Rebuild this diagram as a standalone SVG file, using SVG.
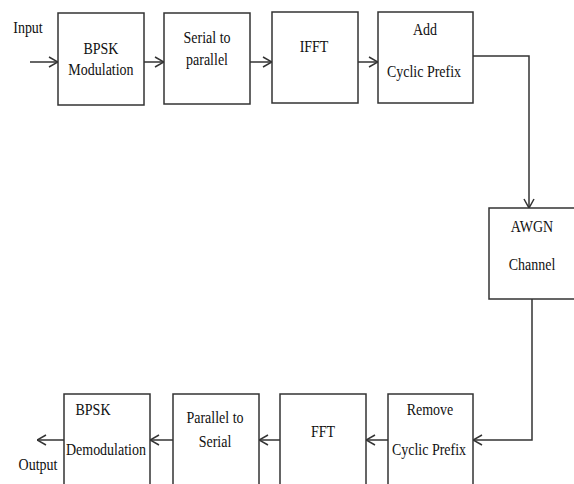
<svg xmlns="http://www.w3.org/2000/svg" width="574" height="484" viewBox="0 0 574 484">
<style>
.box{fill:#fff;stroke:#333;stroke-width:1.5}
.ln{fill:none;stroke:#333;stroke-width:1.5}
text{font-family:"Liberation Serif","Times New Roman",serif;font-size:16px;fill:#111;text-anchor:middle}
</style>
<defs>
<marker id="ah" viewBox="0 0 10 12" refX="10" refY="6" markerWidth="10" markerHeight="12" markerUnits="userSpaceOnUse" orient="auto">
<path d="M1,1 L10,6 L1,11" fill="none" stroke="#333" stroke-width="1.5"/>
</marker>
</defs>
<rect width="574" height="484" fill="#fff"/>
<g id="connectors">
<line class="ln" x1="30" y1="62" x2="58" y2="62" marker-end="url(#ah)"/>
<line class="ln" x1="144" y1="62" x2="164" y2="62" marker-end="url(#ah)"/>
<line class="ln" x1="250" y1="62" x2="272" y2="62" marker-end="url(#ah)"/>
<line class="ln" x1="358" y1="62" x2="378" y2="62" marker-end="url(#ah)"/>
<polyline class="ln" points="473,56 529,56 529,208" marker-end="url(#ah)"/>
<polyline class="ln" points="532,299 532,440 473,440" marker-end="url(#ah)"/>
<line class="ln" x1="388" y1="440" x2="366" y2="440" marker-end="url(#ah)"/>
<line class="ln" x1="280" y1="440" x2="259" y2="440" marker-end="url(#ah)"/>
<line class="ln" x1="173" y1="440" x2="150" y2="440" marker-end="url(#ah)"/>
<line class="ln" x1="64" y1="440" x2="37" y2="440" marker-end="url(#ah)"/>
</g>
<g id="input" transform="scale(0.875,1)"><text x="32" y="33">Input</text></g>
<g id="bpsk-mod"><rect class="box" x="58" y="13" width="86" height="92"/><g transform="scale(0.875,1)"><text x="115.4" y="54">BPSK</text><text x="115.4" y="75">Modulation</text></g></g>
<g id="s2p"><rect class="box" x="164" y="13" width="86" height="91"/><g transform="scale(0.875,1)"><text x="236.6" y="43">Serial to</text><text x="236.6" y="65">parallel</text></g></g>
<g id="ifft"><rect class="box" x="272" y="12" width="86" height="91"/><g transform="scale(0.875,1)"><text x="358.9" y="52">IFFT</text></g></g>
<g id="add-cp"><rect class="box" x="378" y="12" width="95" height="91"/><g transform="scale(0.875,1)"><text x="485.7" y="35">Add</text><text x="484.6" y="77">Cyclic Prefix</text></g></g>
<g id="awgn"><rect class="box" x="489" y="208" width="90" height="91"/><g transform="scale(0.875,1)"><text x="608" y="232">AWGN</text><text x="608" y="270">Channel</text></g></g>
<g id="rm-cp"><rect class="box" x="388" y="394" width="85" height="100"/><g transform="scale(0.875,1)"><text x="491.4" y="415">Remove</text><text x="490.3" y="455">Cyclic Prefix</text></g></g>
<g id="fft"><rect class="box" x="280" y="394" width="86" height="100"/><g transform="scale(0.875,1)"><text x="369.1" y="437">FFT</text></g></g>
<g id="p2s"><rect class="box" x="173" y="394" width="86" height="100"/><g transform="scale(0.875,1)"><text x="245.7" y="423">Parallel to</text><text x="245.7" y="447">Serial</text></g></g>
<g id="bpsk-demod"><rect class="box" x="64" y="394" width="86" height="100"/><g transform="scale(0.875,1)"><text x="106.3" y="415">BPSK</text><text x="121.1" y="455">Demodulation</text></g></g>
<g id="output" transform="scale(0.875,1)"><text x="43.4" y="470">Output</text></g>
</svg>
